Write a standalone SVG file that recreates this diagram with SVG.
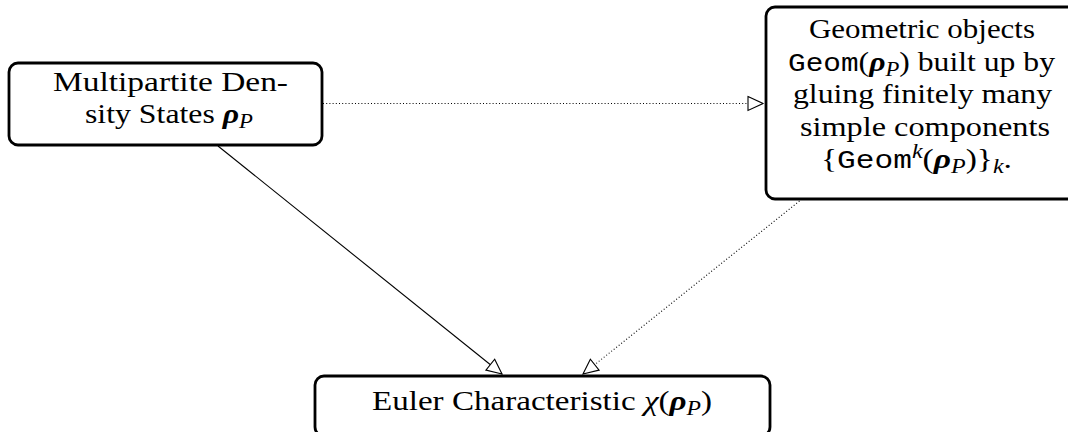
<svg xmlns="http://www.w3.org/2000/svg" width="1068" height="432" viewBox="0 0 1068 432">
<style>
.box{fill:#fff;stroke:#000;stroke-width:2.8}
.t{font-family:"Liberation Serif","Times New Roman",serif;font-size:28px;fill:#000}
.mono{font-family:"Liberation Mono","Courier New",monospace;font-size:26px}
.bm{font-weight:bold;font-style:italic}
.it{font-style:italic}
.solid{stroke:#000;stroke-width:1.1;fill:none}
.dot{stroke:#000;stroke-width:1.1;fill:none;stroke-dasharray:1 2.2}
</style>
<defs>
<marker id="ah" markerUnits="userSpaceOnUse" markerWidth="18" markerHeight="18" viewBox="-1 -8 18 16" refX="15" refY="0" orient="auto">
<path d="M0,-7 L15,0 L0,7 Z" fill="#fff" stroke="#000" stroke-width="1.1"/>
</marker>
</defs>
<rect width="1068" height="432" fill="#fff"/>
<g id="connectors">
<line class="dot" x1="323" y1="103.5" x2="763" y2="103.5" marker-end="url(#ah)"/>
<line class="solid" x1="218" y1="146" x2="502" y2="374" marker-end="url(#ah)"/>
<line class="dot" x1="802" y1="199" x2="583" y2="374" marker-end="url(#ah)"/>
</g>
<g id="node-states">
<rect class="box" x="9" y="63" width="313" height="82" rx="9"/>
<text class="t" x="53" y="90.5" textLength="235" lengthAdjust="spacingAndGlyphs">Multipartite Den-</text>
<text class="t" x="85" y="122.5" textLength="168" lengthAdjust="spacingAndGlyphs">sity States <tspan class="bm">ρ</tspan><tspan class="it" font-size="20" dy="5">P</tspan></text>
</g>
<g id="node-geom">
<rect class="box" x="766" y="7" width="312" height="192" rx="9"/>
<text class="t" x="809" y="38" textLength="226" lengthAdjust="spacingAndGlyphs">Geometric objects</text>
<text class="t" x="788" y="70.5" textLength="267" lengthAdjust="spacingAndGlyphs"><tspan class="mono">Geom</tspan>(<tspan class="bm">ρ</tspan><tspan class="it" font-size="20" dy="5">P</tspan><tspan dy="-5">) built up by</tspan></text>
<text class="t" x="793" y="103" textLength="259" lengthAdjust="spacingAndGlyphs">gluing finitely many</text>
<text class="t" x="800" y="135.5" textLength="250" lengthAdjust="spacingAndGlyphs">simple components</text>
<text class="t" x="821" y="168" textLength="191" lengthAdjust="spacingAndGlyphs">{<tspan class="mono">Geom</tspan><tspan class="it" font-size="20" dy="-10">k</tspan><tspan dy="10">(</tspan><tspan class="bm">ρ</tspan><tspan class="it" font-size="20" dy="5">P</tspan><tspan dy="-5">)}</tspan><tspan class="it" font-size="20" dy="5">k</tspan><tspan dy="-5">.</tspan></text>
</g>
<g id="node-euler">
<rect class="box" x="315" y="376" width="455" height="60" rx="9"/>
<text class="t" x="372" y="410" textLength="340" lengthAdjust="spacingAndGlyphs">Euler Characteristic <tspan class="it">χ</tspan>(<tspan class="bm">ρ</tspan><tspan class="it" font-size="20" dy="5">P</tspan><tspan dy="-5">)</tspan></text>
</g>
</svg>
